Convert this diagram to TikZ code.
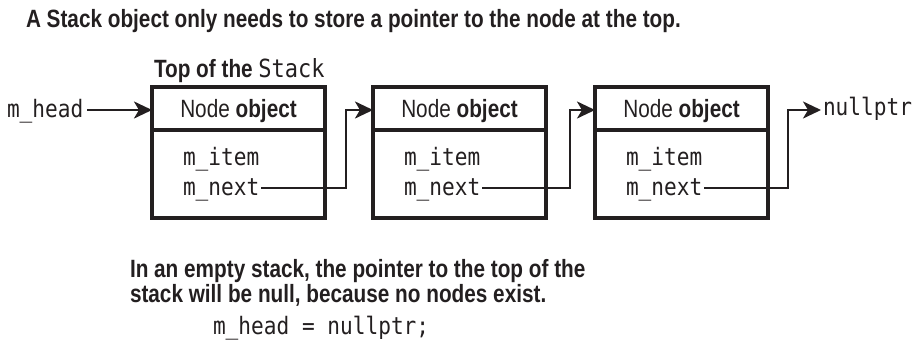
\documentclass[tikz,border=0pt]{standalone}
\usepackage{fontspec}
\setmainfont[FakeStretch=0.83]{Liberation Sans}
\newfontfamily\codefont[FakeStretch=0.88]{DejaVu Sans Mono}
\usetikzlibrary{arrows.meta}
\definecolor{ink}{HTML}{231F20}
\begin{document}
\begin{tikzpicture}[x=1pt,y=-1pt,
  every node/.style={inner sep=0pt,outer sep=0pt,text=ink},
  txt/.style={font=\fontsize{25}{28}\selectfont},
  btxt/.style={font=\fontsize{25}{28}\selectfont\bfseries},
  code/.style={font=\fontsize{24}{28}\selectfont\codefont},
  objbox/.style={draw=ink,line width=3.3pt,minimum width=173pt,minimum height=131pt},
  conn/.style={draw=ink,line width=2.6pt},
  tip/.style={-{Stealth[length=18pt,width=17pt,inset=5pt]}}
]
\useasboundingbox (0,0) rectangle (915,362);
% title
\node[btxt,anchor=base west] (title) at (26,27) {A Stack object only needs to store a pointer to the node at the top.};
\node[btxt,anchor=base west] (top) at (154,77) {Top of the {\mdseries\codefont Stack}};
% boxes
\foreach \i/\x in {1/152,2/373,3/595}{
  \node[objbox,anchor=north west] (box\i) at (\x,87) {};
  \draw[draw=ink,line width=3.3pt] (\x,130) -- (\x+173,130);
  \node[txt,anchor=base] (hd\i) at (\x+86.5,117) {Node \textbf{object}};
  \node[code,anchor=base west] (item\i) at (\x+31,165) {m\_item};
  \node[code,anchor=base west] (next\i) at (\x+31,195) {m\_next};
}
\node[code,anchor=base west] (head) at (7,117) {m\_head};
\node[code,anchor=base west] (null) at (823,115) {nullptr};
\coordinate (k1) at (346,188);
\coordinate (k2) at (570,188);
\coordinate (k3) at (788,188);
\draw[conn,tip] ([xshift=4pt]head.east |- 0,110) -- (box1.west |- 0,110);
\draw[conn,tip] ([xshift=2pt]next1.east |- k1) -- (k1) |- (box2.west |- 0,110);
\draw[conn,tip] ([xshift=2pt]next2.east |- k2) -- (k2) |- (box3.west |- 0,110);
\draw[conn,tip] ([xshift=2pt]next3.east |- k3) -- (k3) |- ([xshift=-2pt]null.west |- 0,110);
% bottom text
\node[btxt,anchor=base west] (note1) at (130,277) {In an empty stack, the pointer to the top of the};
\node[btxt,anchor=base west] (note2) at (130,302) {stack will be null, because no nodes exist.};
\node[code,anchor=base west] (codeline) at (213,334) {m\_head = nullptr;};
\end{tikzpicture}
\end{document}
